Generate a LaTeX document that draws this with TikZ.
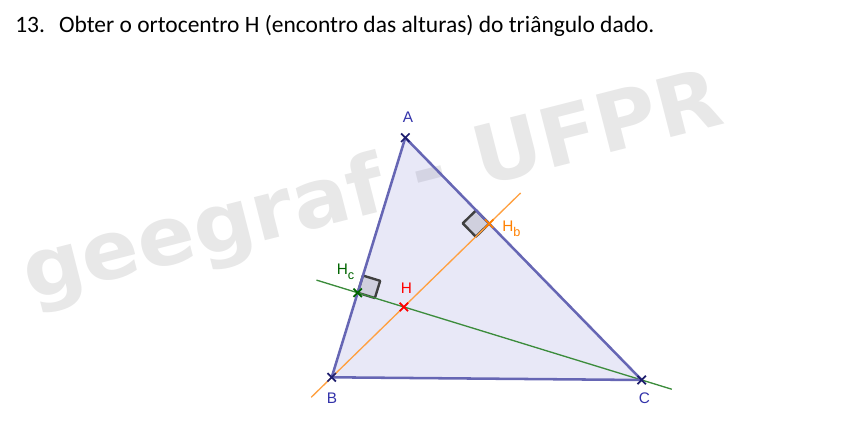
\documentclass[tikz,border=0pt]{standalone}
\usepackage{fontspec}
\setmainfont{Liberation Sans}
\newfontfamily\titlefont{Carlito}
\newfontfamily\markfont{DejaVu Sans}
\usetikzlibrary{calc, shapes.misc, positioning}
\definecolor{polyedge}{RGB}{102,102,180}
\definecolor{polyfill}{RGB}{102,102,204}
\definecolor{ptnavy}{RGB}{30,30,110}
\definecolor{labblue}{RGB}{51,51,170}
\definecolor{altorange}{RGB}{255,160,64}
\definecolor{ptorange}{RGB}{255,128,0}
\definecolor{altgreen}{RGB}{60,140,60}
\definecolor{ptgreen}{RGB}{0,100,0}
\definecolor{wmgray}{RGB}{232,232,232}
\definecolor{sqfill}{RGB}{208,208,222}
\definecolor{sqdraw}{RGB}{64,64,64}
\newcommand{\lsub}[1]{\raisebox{-3.8pt}{\fontsize{9.5}{10}\selectfont #1}}
\tikzset{
  ptmark/.style={cross out, draw=#1, line width=1.3pt, minimum size=5pt, inner sep=0pt},
  ptlabel/.style={anchor=base west, inner sep=0pt, text=#1, font=\fontsize{11.5}{13}\selectfont},
  rightmark/.style={draw=sqdraw, fill=sqfill, line width=1.8pt, line join=round}
}

\begin{document}
\begin{tikzpicture}[x=0.75pt, y=-0.75pt]
\useasboundingbox (0,0) rectangle (842,439);

\node[anchor=base west, inner sep=0pt, font=\titlefont\fontsize{17.6}{21}\selectfont] (title) at (15,32) {13.\hspace{0.6em}Obter o ortocentro H (encontro das alturas) do triângulo dado.};

\node[rotate=14.3, xscale=1.04, anchor=base west, inner sep=0pt, text=wmgray, font=\markfont\bfseries\fontsize{61}{68}\selectfont] (wmark) at (30,301) {geegraf - UFPR};

\coordinate (A) at (405.3,137.7);
\coordinate (B) at (331.7,377.3);
\coordinate (C) at (641.7,380);
\coordinate (Hb) at ($(A)!(B)!(C)$);
\coordinate (Hc) at ($(A)!(C)!(B)$);
\coordinate (H) at (intersection of B--Hb and C--Hc);

\fill[polyfill, fill opacity=0.15] (A) -- (B) -- (C) -- cycle;

\coordinate (qb1) at ($(Hb)!14pt!(A)$);
\coordinate (qb2) at ($(Hb)!14pt!(B)$);
\draw[rightmark] (Hb) -- (qb1) -- ($(qb1)+(qb2)-(Hb)$) -- (qb2) -- cycle;
\coordinate (qc1) at ($(Hc)!13.5pt!(A)$);
\coordinate (qc2) at ($(Hc)!13.5pt!(C)$);
\draw[rightmark] (Hc) -- (qc1) -- ($(qc1)+(qc2)-(Hc)$) -- (qc2) -- cycle;

\coordinate (ob1) at ($(B)!-0.13!(Hb)$);
\coordinate (ob2) at ($(B)!1.2!(Hb)$);
\draw[altorange, line width=1pt] (ob1) -- (ob2);
\coordinate (gc1) at ($(C)!-0.106!(Hc)$);
\coordinate (gc2) at ($(C)!1.145!(Hc)$);
\draw[altgreen, line width=1pt] (gc1) -- (gc2);

\draw[polyedge, line width=1.9pt, line join=round] (A) -- (B) -- (C) -- cycle;

\node[ptmark=ptnavy] (pA) at (A) {};
\node[ptmark=ptnavy] (pB) at (B) {};
\node[ptmark=ptnavy] (pC) at (C) {};
\node[ptmark=ptorange] (pHb) at (Hb) {};
\node[ptmark=ptgreen] (pHc) at (Hc) {};
\node[ptmark=red] (pH) at (H) {};

\node[ptlabel=labblue] (lA) at (402.5,122) {A};
\node[ptlabel=labblue] (lB) at (326.5,403) {B};
\node[ptlabel=labblue] (lC) at (638.5,403) {C};
\node[ptlabel=red] (lH) at (400.5,293) {H};
\node[ptlabel=ptgreen] (lHc) at (336.5,274) {H\lsub{c}};
\node[ptlabel=ptorange] (lHb) at (502,231) {H\lsub{b}};
\end{tikzpicture}
\end{document}
